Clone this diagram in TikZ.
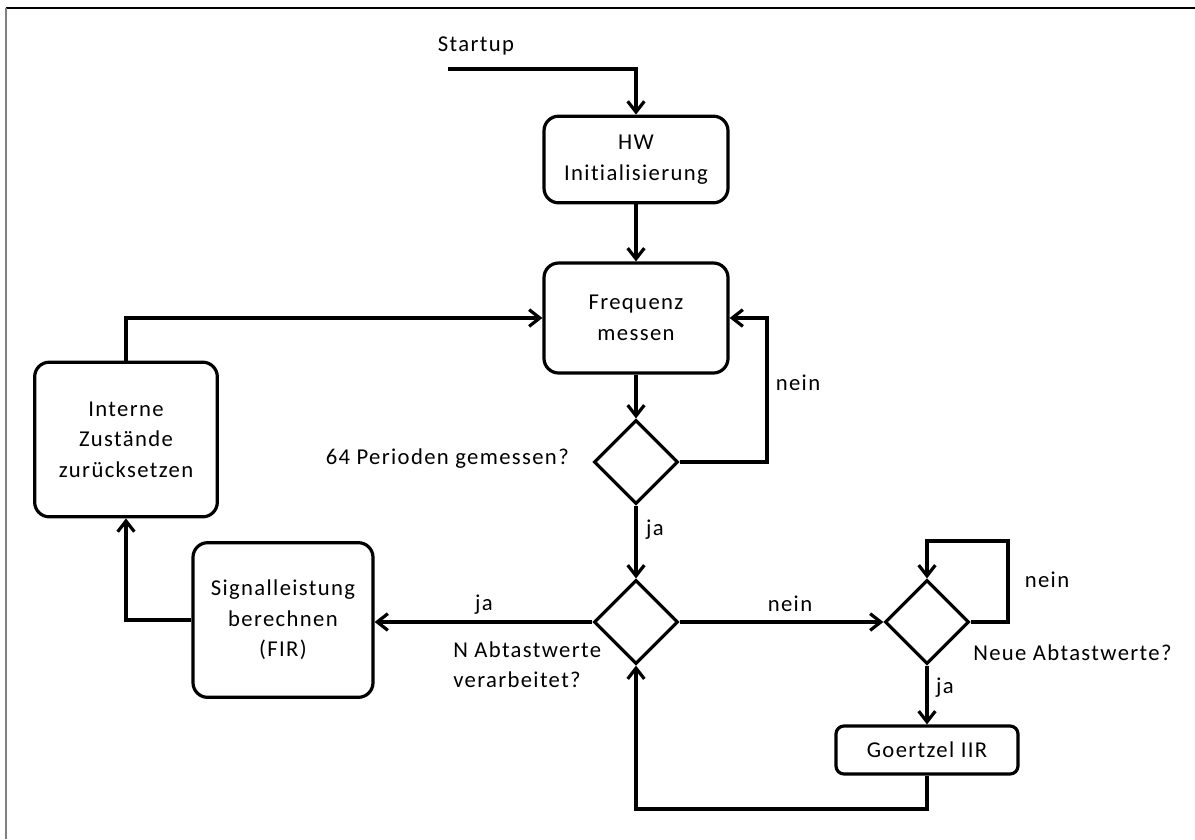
\documentclass[tikz,border=0pt]{standalone}
\usepackage{fontspec}
\setmainfont{Carlito}[LetterSpace=6, Ligatures=NoCommon]
\usetikzlibrary{arrows.meta,shapes.geometric,calc}
\begin{document}
\begin{tikzpicture}[x=0.75pt,y=-0.75pt,
  every node/.style={font=\fontsize{17}{23}\selectfont, text=black},
  proc/.style={draw, line width=2.4pt, rounded corners=11pt, align=center, inner sep=0pt},
  dec/.style={draw, diamond, aspect=1, line width=2.4pt, minimum size=63pt, inner sep=0pt},
  conn/.style={line width=2.4pt, -{Straight Barb[length=8pt,width=12.5pt]}},
  lbl/.style={inner sep=0pt}
]
\useasboundingbox (0,0) rectangle (1195,839);
\draw[line width=0.8pt, black] (6,8) -- (1195,8);
\draw[line width=0.8pt, gray] (6,8) -- (6,839);

% nodes
\node[proc, minimum width=138pt, minimum height=65pt] (hw) at (636,159.5) {HW\\Initialisierung};
\node[proc, minimum width=138pt, minimum height=82.5pt] (freq) at (636,318) {Frequenz\\messen};
\node[dec] (d1) at (636,462) {};
\node[dec] (d2) at (636,622) {};
\node[dec] (d3) at (927,622) {};
\node[proc, minimum width=137pt, minimum height=116pt] (intern) at (126,439.5) {Interne\\Zustände\\zurücksetzen};
\node[proc, minimum width=135pt, minimum height=116pt] (sig) at (283,620) {Signalleistung\\berechnen\\(FIR)};
\node[proc, rounded corners=6pt, minimum width=136.5pt, minimum height=36pt] (goe) at (927,750) {Goertzel IIR};

% labels
\node[lbl] (tstart) at (476,46) {Startup};
\node[lbl, anchor=east] (tq1) at (569,459) {64 Perioden gemessen?};
\node[lbl] (tn1) at (798,383) {nein};
\node[lbl] (tj1) at (655,530) {ja};
\node[lbl] (tj2) at (484,605) {ja};
\node[lbl, align=left, anchor=north west] (tq2) at (453,641) {N Abtastwerte\\verarbeitet?};
\node[lbl] (tn2) at (790,604) {nein};
\node[lbl] (tn3) at (1047,580) {nein};
\node[lbl, anchor=west] (tq3) at (973,653) {Neue Abtastwerte?};
\node[lbl] (tj3) at (945,688) {ja};

% connectors
\coordinate (s0) at (448,69);
\draw[conn] (s0) -| (hw.north);
\draw[conn] (hw.south) -- (freq.north);
\draw[conn] (freq.south) -- (d1.north);
\coordinate (l1) at (767,462);
\draw[conn] (d1.east) -- (l1) |- (freq.east);
\draw[conn] (d1.south) -- (d2.north);
\draw[conn] (d2.west) -- (d2.west -| sig.east);
\draw[conn] (d2.east) -- (d3.west);
\coordinate (l3a) at (1008,622);
\coordinate (l3b) at (1008,541);
\draw[conn] (d3.east) -- (l3a) -- (l3b) -| (d3.north);
\draw[conn] (d3.south) -- (goe.north);
\coordinate (l4) at (927,809);
\draw[conn] (goe.south) -- (l4) -| (d2.south);
\draw[conn] (sig.west) -| (intern.south);
\draw[conn] (intern.north) |- (freq.west);
\end{tikzpicture}
\end{document}
